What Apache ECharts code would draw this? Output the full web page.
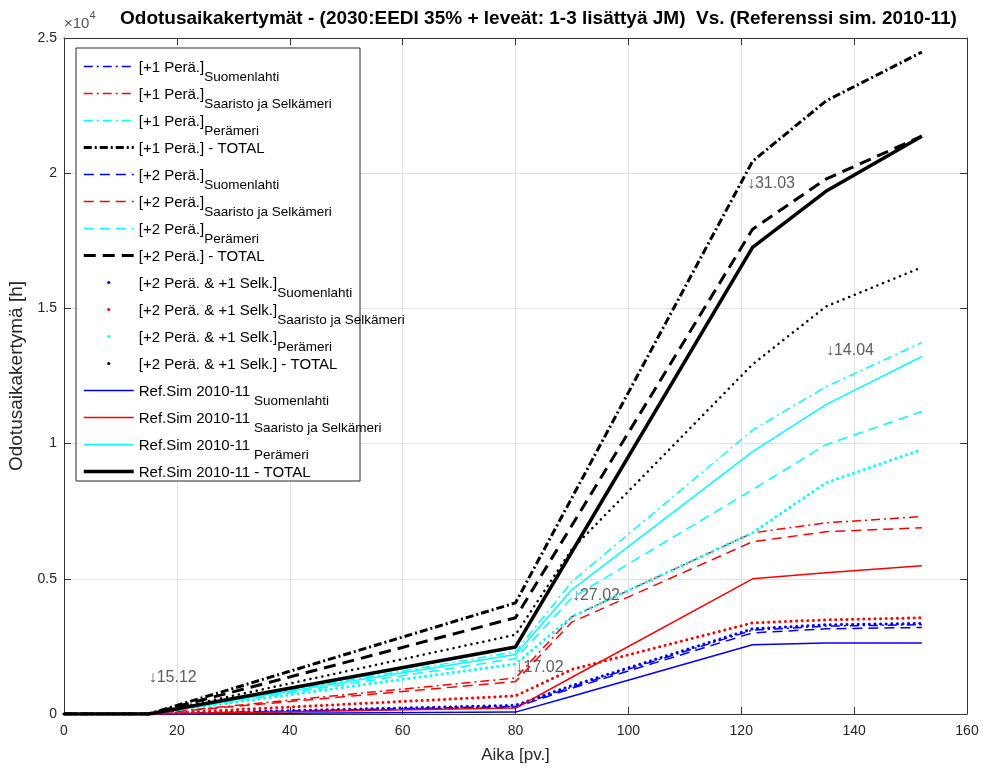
<!DOCTYPE html>
<html>
<head>
<meta charset="utf-8">
<title>Odotusaikakertymät</title>
<script src="https://cdn.jsdelivr.net/npm/echarts@6/dist/echarts.min.js"></script>
<style>
  html, body { margin: 0; padding: 0; background: #fff; }
  #chart { width: 983px; height: 769px; }
</style>
</head>
<body>
<div id="chart"></div>
<script>
// day of season (x) and cumulative waiting time in hours (y)
const days = [0, 15, 80, 90, 122, 135, 152]

const p1Suomenlahti = [0, 0, 280, 1000, 3100, 3250, 3300]
const p1Saaristo    = [0, 0, 1330, 3600, 6700, 7070, 7300]
const p1Perameri    = [0, 0, 2300, 4900, 10500, 12100, 13740]
const p1Total       = [0, 0, 4110, 8000, 20440, 22670, 24480]

const p2Suomenlahti = [0, 0, 250, 950, 3000, 3150, 3200]
const p2Saaristo    = [0, 0, 1200, 3400, 6370, 6740, 6890]
const p2Perameri    = [0, 0, 2050, 4300, 8300, 9960, 11190]
const p2Total       = [0, 0, 3560, 6980, 17930, 19780, 21370]

const p2s1Suomenlahti = [0, 0, 320, 1050, 3150, 3300, 3350]
const p2s1Saaristo    = [0, 0, 670, 1650, 3370, 3480, 3560]
const p2s1Perameri    = [0, 0, 1850, 3600, 6700, 8550, 9780]
const p2s1Total       = [0, 0, 2930, 6100, 12930, 15070, 16520]

const refSuomenlahti = [0, 0, 70, 660, 2560, 2630, 2630]
const refSaaristo    = [0, 0, 220, 1360, 5000, 5220, 5480]
const refPerameri    = [0, 0, 2200, 4600, 9700, 11440, 13220]
const refTotal       = [0, 0, 2480, 6000, 17260, 19330, 21370]

const annoDays  = [15, 80, 90, 121, 135]
const annoHours = [1330, 1700, 4370, 19630, 13440]
const annoTexts = ['↓15.12', '↓17.02', '↓27.02', '↓31.03', '↓14.04']

const yTickLabels = ['0', '0.5', '1', '1.5', '2', '2.5']

const FONT = 'Liberation Sans, Arial, Helvetica, sans-serif'
const AXIS = '#333333'
const TEXT = '#262626'

const BLUE = '#0000ff'
const RED = '#ff0000'
const CYAN = '#00ffff'
const BLACK = '#000000'

const DASHDOT = [9, 4, 2, 4]
const DASHDOT_BOLD = [8, 3, 2, 3]
const DASHED = [10, 6]
const DASHED_BOLD = [12, 7]
const DOTTED = [0.1, 5.5]

function pairs(values) {
    return days.map((d, i) => [d, values[i]])
}

function line(name, values, color, width, dash, dotted) {
    return {
        name: name,
        type: 'line',
        data: pairs(values),
        symbol: dotted ? 'circle' : 'none',
        symbolSize: 3,
        showSymbol: false,
        silent: true,
        lineStyle: { color: color, width: width, type: dash, cap: dotted ? 'round' : 'butt' },
        itemStyle: { color: color }
    }
}

const series = [
    line('[+1 Perä.]_Suomenlahti', p1Suomenlahti, BLUE, 1.5, DASHDOT),
    line('[+1 Perä.]_Saaristo ja Selkämeri', p1Saaristo, RED, 1.5, DASHDOT),
    line('[+1 Perä.]_Perämeri', p1Perameri, CYAN, 1.5, DASHDOT),
    line('[+1 Perä.] - TOTAL', p1Total, BLACK, 3, DASHDOT_BOLD),
    line('[+2 Perä.]_Suomenlahti', p2Suomenlahti, BLUE, 1.5, DASHED),
    line('[+2 Perä.]_Saaristo ja Selkämeri', p2Saaristo, RED, 1.5, DASHED),
    line('[+2 Perä.]_Perämeri', p2Perameri, CYAN, 1.5, DASHED),
    line('[+2 Perä.] - TOTAL', p2Total, BLACK, 3, DASHED_BOLD),
    line('[+2 Perä. & +1 Selk.]_Suomenlahti', p2s1Suomenlahti, BLUE, 3, DOTTED, true),
    line('[+2 Perä. & +1 Selk.]_Saaristo ja Selkämeri', p2s1Saaristo, RED, 3, DOTTED, true),
    line('[+2 Perä. & +1 Selk.]_Perämeri', p2s1Perameri, CYAN, 3, DOTTED, true),
    line('[+2 Perä. & +1 Selk.] - TOTAL', p2s1Total, BLACK, 2.5, [0.1, 6], true),
    line('Ref.Sim 2010-11_ Suomenlahti', refSuomenlahti, BLUE, 1.5, 'solid'),
    line('Ref.Sim 2010-11_ Saaristo ja Selkämeri', refSaaristo, RED, 1.5, 'solid'),
    line('Ref.Sim 2010-11_ Perämeri', refPerameri, CYAN, 1.5, 'solid'),
    line('Ref.Sim 2010-11 - TOTAL', refTotal, BLACK, 3.5, 'solid')
]

// date marks
series.push({
    name: 'dates',
    type: 'scatter',
    symbolSize: 0,
    silent: true,
    data: annoDays.map((d, i) => [d, annoHours[i], annoTexts[i]]),
    label: {
        show: true,
        position: 'right',
        distance: 0,
        formatter: p => p.data[2],
        color: '#333',
        fontSize: 16,
        fontFamily: FONT
    }
})

// dotted series show only a dot in the legend, the others only the line
const legendData = series.slice(0, 16).map(s => {
    if (s.symbol === 'circle') {
        return { name: s.name, lineStyle: { opacity: 0, width: 0 } }
    }
    return { name: s.name, itemStyle: { opacity: 0 }, lineStyle: { width: s.lineStyle.width } }
})

const chart = echarts.init(document.getElementById('chart'), null, { renderer: 'canvas' })

chart.setOption({
    animation: false,
    backgroundColor: '#ffffff',
    title: {
        text: 'Odotusaikakertymät - (2030:EEDI 35% + leveät: 1-3 lisättyä JM)  Vs. (Referenssi sim. 2010-11)',
        left: 120,
        top: 9,
        padding: 0,
        textStyle: { fontFamily: FONT, fontSize: 19, fontWeight: 'bold', color: '#000' }
    },
    grid: { left: 64, right: 16, top: 38, bottom: 55, containLabel: false, outerBoundsMode: 'none' },
    legend: {
        data: legendData,
        orient: 'vertical',
        left: 82,
        top: 59,
        padding: 0,
        itemWidth: 50,
        itemHeight: 4,
        itemGap: 2,
        selectedMode: false,
        formatter: name => {
            const parts = name.split('_')
            return '{m|' + parts[0] + '}{s|' + (parts[1] || ' ') + '}'
        },
        textStyle: {
            fontFamily: FONT,
            color: '#000',
            rich: {
                m: { fontFamily: FONT, fontSize: 15, lineHeight: 15, verticalAlign: 'top', padding: [1, 0, 0, 0], color: '#000' },
                s: { fontFamily: FONT, fontSize: 13.5, lineHeight: 13, verticalAlign: 'top', padding: [11, 0, 0, 0], color: '#000' }
            }
        }
    },
    graphic: [
        {
            type: 'rect',
            z: 3,
            silent: true,
            shape: { x: 76, y: 48, width: 284, height: 433 },
            style: { fill: '#ffffff', stroke: '#262626', lineWidth: 1 }
        },
        {
            type: 'text',
            z: 5,
            left: 64,
            top: 10,
            silent: true,
            style: {
                text: '{a|×10}{b|4}',
                rich: {
                    a: { fontFamily: FONT, fontSize: 15, lineHeight: 15, verticalAlign: 'top', padding: [6, 0, 0, 0], fill: '#555' },
                    b: { fontFamily: FONT, fontSize: 11, lineHeight: 11, verticalAlign: 'top', fill: '#555' }
                }
            }
        }
    ],
    xAxis: [
        {
            type: 'value',
            min: 0,
            max: 160,
            interval: 20,
            name: 'Aika [pv.]',
            nameLocation: 'middle',
            nameGap: 33,
            nameTextStyle: { fontFamily: FONT, fontSize: 17, color: TEXT },
            axisLine: { show: true, onZero: false, lineStyle: { color: AXIS, width: 1 } },
            axisTick: { show: true, inside: true, length: 7, lineStyle: { color: AXIS } },
            axisLabel: { fontFamily: FONT, fontSize: 14, color: TEXT, margin: 10 },
            splitLine: { show: true, lineStyle: { color: '#e0e0e0', width: 1 } }
        },
        {
            type: 'value',
            position: 'top',
            min: 0,
            max: 160,
            interval: 20,
            axisLine: { show: true, onZero: false, lineStyle: { color: AXIS, width: 1 } },
            axisTick: { show: true, inside: true, length: 7, lineStyle: { color: AXIS } },
            axisLabel: { show: false },
            splitLine: { show: false }
        }
    ],
    yAxis: [
        {
            type: 'value',
            min: 0,
            max: 25000,
            interval: 5000,
            name: 'Odotusaikakertymä [h]',
            nameLocation: 'middle',
            nameGap: 37,
            nameTextStyle: { fontFamily: FONT, fontSize: 19, color: TEXT },
            axisLine: { show: true, onZero: false, lineStyle: { color: AXIS, width: 1 } },
            axisTick: { show: true, inside: true, length: 7, lineStyle: { color: AXIS } },
            axisLabel: {
                fontFamily: FONT,
                fontSize: 14,
                color: TEXT,
                margin: 7,
                formatter: v => yTickLabels[Math.round(v / 5000)]
            },
            splitLine: { show: true, lineStyle: { color: '#e0e0e0', width: 1 } }
        },
        {
            type: 'value',
            position: 'right',
            min: 0,
            max: 25000,
            interval: 5000,
            axisLine: { show: true, onZero: false, lineStyle: { color: AXIS, width: 1 } },
            axisTick: { show: true, inside: true, length: 7, lineStyle: { color: AXIS } },
            axisLabel: { show: false },
            splitLine: { show: false }
        }
    ],
    series: series
})

window.addEventListener('resize', () => chart.resize())
</script>
</body>
</html>
